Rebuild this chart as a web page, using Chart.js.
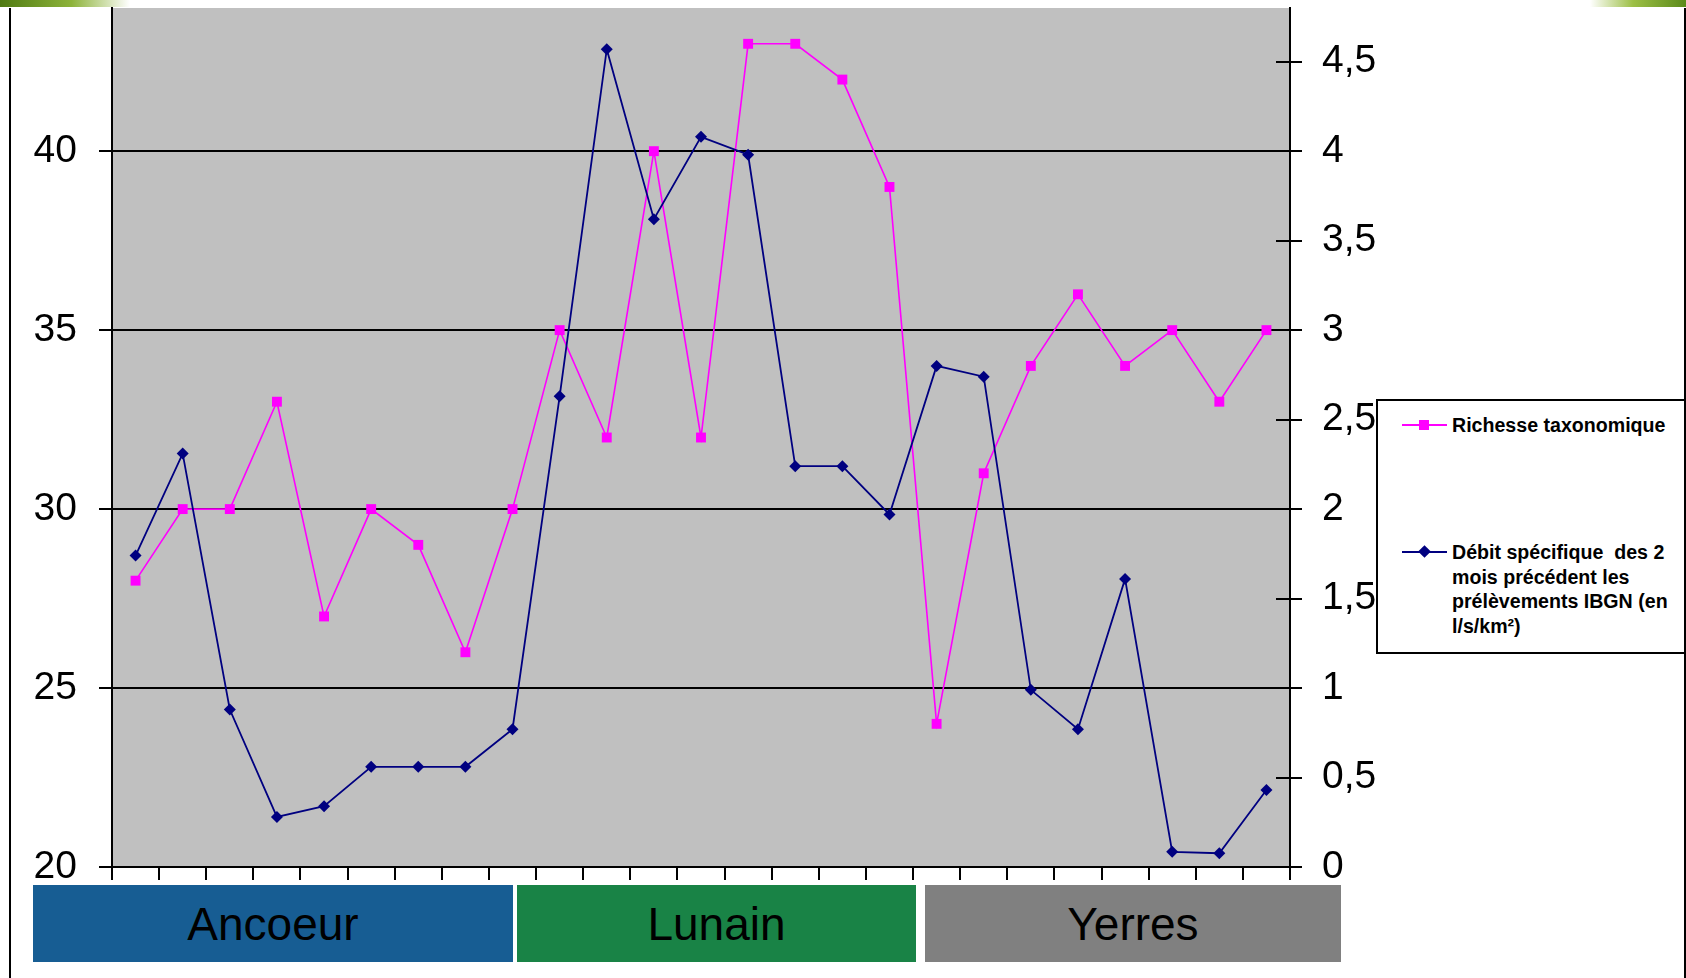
<!DOCTYPE html>
<html lang="fr">
<head>
    <meta charset="UTF-8">
    <title>Richesse taxonomique et débit spécifique</title>
    <script src="https://cdn.jsdelivr.net/npm/chart.js"></script>
    <style>
        body {
            margin: 0;
            width: 1686px;
            height: 978px;
            overflow: hidden;
            background: #fff;
            position: relative;
            font-family: "Liberation Sans", Arial, sans-serif;
        }
        #chart { position: absolute; left: 0; top: 0; }
        .frame { position: absolute; top: 8px; bottom: 0; width: 2px; background: #000; }
        .leaf { position: absolute; top: 0; height: 7px; }
        .river {
            position: absolute;
            top: 885px;
            height: 77px;
            display: flex;
            align-items: center;
            justify-content: center;
            font-size: 46px;
            color: #000;
        }
        #legend {
            position: absolute;
            left: 1376px;
            top: 399px;
            width: 306px;
            height: 251px;
            border: 2px solid #000;
            background: #fff;
            font-weight: bold;
            font-size: 19.6px;
            line-height: 24.7px;
        }
        #legend .line { position: absolute; left: 24px; width: 45px; height: 2px; }
        #legend .mark { position: absolute; }
        #legend .txt { position: absolute; left: 74px; white-space: nowrap; }
    </style>
</head>
<body>

    <div class="leaf" style="left:0; width:130px; background:linear-gradient(to right, #4f7a12, #8db33a 55%, rgba(200,220,160,0));"></div>
    <div class="leaf" style="left:1590px; width:96px; background:linear-gradient(to right, rgba(200,220,160,0), #9cbf45 45%, #5b8a1a);"></div>
    <div class="frame" style="left:9px;"></div>
    <div class="frame" style="left:1684px;"></div>

    <canvas id="chart" width="1686" height="978"></canvas>

    <div class="river" style="left:33px; width:480px; background:#175d93;">Ancoeur</div>
    <div class="river" style="left:517px; width:399px; background:#198346;">Lunain</div>
    <div class="river" style="left:925px; width:416px; background:#808080;">Yerres</div>

    <div id="legend">
        <div class="line" style="top:23px; background:#ff00ff;"></div>
        <div class="mark" style="left:41px; top:19px; width:10px; height:10px; background:#ff00ff;"></div>
        <div class="txt" style="top:12px;">Richesse taxonomique</div>

        <div class="line" style="top:150px; background:#000080;"></div>
        <div class="mark" style="left:42px; top:146px; width:9px; height:9px; background:#000080; transform:rotate(45deg);"></div>
        <div class="txt" style="top:139px;">Débit spécifique&nbsp; des 2<br>mois précédent les<br>prélèvements IBGN (en<br>l/s/km²)</div>
    </div>

    <script>
        // Stations (3 rivers)
        const stations = ['A1', 'A2', 'A3', 'A4', 'A5', 'A6', 'A7', 'A8', 'A9',
                          'L1', 'L2', 'L3', 'L4', 'L5', 'L6', 'L7', 'L8',
                          'Y1', 'Y2', 'Y3', 'Y4', 'Y5', 'Y6', 'Y7', 'Y8'];

        // Richesse taxonomique (left axis)
        const richesse = [28, 30, 30, 33, 27, 30, 29, 26, 30,
                          35, 32, 40, 32, 43, 43, 42, 39,
                          24, 31, 34, 36, 34, 35, 33, 35];

        // Débit spécifique des 2 mois précédents, l/s/km² (right axis)
        const debit = [1.74, 2.31, 0.88, 0.28, 0.34, 0.56, 0.56, 0.56, 0.77,
                       2.63, 4.57, 3.62, 4.08, 3.98, 2.24, 2.24, 1.97,
                       2.80, 2.74, 0.99, 0.77, 1.61, 0.085, 0.077, 0.43];

        const richesseLabel = 'Richesse taxonomique';
        const debitLabel = 'Débit spécifique  des 2 mois précédent les prélèvements IBGN (en l/s/km²)';

        Chart.defaults.font.family = '"Liberation Sans", Arial, sans-serif';
        Chart.defaults.color = '#000';

        // grey plot area
        const plotBg = {
            id: 'plotBg',
            beforeDraw(chart) {
                const { ctx, chartArea: a } = chart;
                ctx.save();
                ctx.fillStyle = '#c0c0c0';
                ctx.fillRect(a.left, a.top, a.right - a.left, a.bottom - a.top);
                ctx.restore();
            }
        };

        // tick marks on the right axis cross the axis line
        const innerTicks = {
            id: 'innerTicks',
            afterDatasetsDraw(chart) {
                const s = chart.scales.y1;
                const ctx = chart.ctx;
                ctx.save();
                ctx.strokeStyle = '#000';
                ctx.lineWidth = 2;
                s.ticks.forEach(t => {
                    const y = Math.round(s.getPixelForValue(t.value));
                    ctx.beginPath();
                    ctx.moveTo(s.left - 14, y);
                    ctx.lineTo(s.left, y);
                    ctx.stroke();
                });
                ctx.restore();
            }
        };

        // keep the plot area where the slide has it
        function fixVertical(width) {
            return s => {
                s.width = width;
                s.paddingTop = 0;
                s.paddingBottom = 0;
            };
        }

        new Chart(document.getElementById('chart'), {
            type: 'line',
            data: {
                labels: stations,
                datasets: [{
                    label: richesseLabel,
                    data: richesse,
                    yAxisID: 'y',
                    borderColor: '#ff00ff',
                    backgroundColor: '#ff00ff',
                    borderWidth: 1.6,
                    pointStyle: 'rect',
                    pointRadius: 7,
                    pointBorderWidth: 0,
                    tension: 0,
                    order: 2
                }, {
                    label: debitLabel,
                    data: debit,
                    yAxisID: 'y1',
                    borderColor: '#000080',
                    backgroundColor: '#000080',
                    borderWidth: 1.8,
                    pointStyle: 'rectRot',
                    pointRadius: 6,
                    pointBorderWidth: 0,
                    tension: 0,
                    order: 1
                }]
            },
            options: {
                responsive: false,
                animation: false,
                events: [],
                layout: { padding: { top: 8, left: 0, right: 0, bottom: 0 } },
                plugins: {
                    legend: { display: false },
                    tooltip: { enabled: false }
                },
                scales: {
                    x: {
                        type: 'category',
                        offset: true,
                        grid: { offset: true, drawOnChartArea: false, tickLength: 13, color: '#000', lineWidth: 2 },
                        border: { color: '#000', width: 2 },
                        ticks: { display: false },
                        afterFit: s => { s.height = 111; s.paddingLeft = 0; s.paddingRight = 0; }
                    },
                    y: {
                        position: 'left',
                        min: 20,
                        max: 44,
                        ticks: { stepSize: 5, includeBounds: false, padding: 22, font: { size: 39 } },
                        afterBuildTicks: s => { s.ticks = s.ticks.filter(t => t.value <= 40); },
                        grid: { color: '#000', lineWidth: 2, tickLength: 13 },
                        border: { color: '#000', width: 2 },
                        afterFit: fixVertical(112)
                    },
                    y1: {
                        position: 'right',
                        min: 0,
                        max: 4.8,
                        ticks: {
                            stepSize: 0.5,
                            includeBounds: false,
                            padding: 20,
                            font: { size: 39 },
                            callback: v => String(v).replace('.', ',')
                        },
                        afterBuildTicks: s => { s.ticks = s.ticks.filter(t => t.value <= 4.5); },
                        grid: { drawOnChartArea: false, color: '#000', lineWidth: 2, tickLength: 12 },
                        border: { color: '#000', width: 2 },
                        afterFit: fixVertical(396)
                    }
                }
            },
            plugins: [plotBg, innerTicks]
        });
    </script>

</body>
</html>
